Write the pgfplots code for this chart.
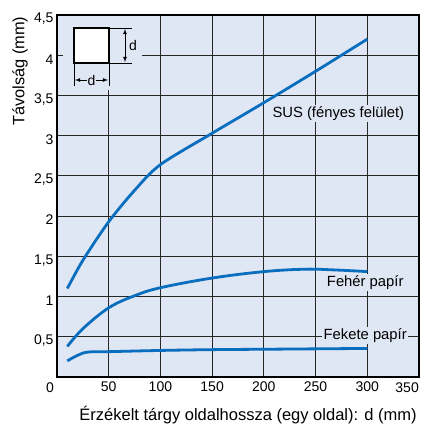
\documentclass[border=0pt]{standalone}
\usepackage{pgfplots}
\pgfplotsset{compat=1.18}
\usetikzlibrary{calc}
\usepackage{fontspec}
\setmainfont{Liberation Sans}
\definecolor{bgblue}{RGB}{223,230,244}
\definecolor{curve}{RGB}{10,110,190}
\begin{document}
\begin{tikzpicture}
\begin{axis}[
  scale only axis, width=362pt, height=362pt,
  xmin=0, xmax=350, ymin=0, ymax=4.5,
  xtick={50,100,...,350}, xticklabels={50,100,150,200,250,300,},
  ytick={0.5,1,...,4.5},
  /pgf/number format/use comma,
  /pgf/number format/assume math mode=true,
  tick label style={font=\fontsize{14}{16}\selectfont},
  major tick length=0pt,
  xticklabel style={yshift=-1pt},
  yticklabel style={xshift=0pt, yshift=-4pt},
  grid=major,
  major grid style={black!85, line width=0.8pt},
  axis line style={black, line width=1.2pt},
  axis background/.style={fill=bgblue},
  axis on top=false,
  clip=false,
]
\coordinate (SW) at (rel axis cs:0,0);
\coordinate (SE) at (rel axis cs:1,0);
\coordinate (NE) at (rel axis cs:1,1);
\coordinate (BC) at (rel axis cs:0.5,0);
\coordinate (TL) at (rel axis cs:0,1);
\addplot[curve, line width=2.8pt, smooth, tension=0.5] coordinates {
 (10,1.10) (25,1.45) (50,1.93) (75,2.32) (100,2.64) (150,3.03) (200,3.41) (250,3.80) (300,4.20)};
\addplot[curve, line width=2.8pt, smooth, tension=0.6] coordinates {
 (10,0.38) (25,0.60) (50,0.86) (75,1.01) (100,1.11) (150,1.23) (200,1.31) (240,1.34) (270,1.33) (300,1.31)};
\addplot[curve, line width=2.8pt, smooth, tension=0.6] coordinates {
 (10,0.20) (20,0.27) (30,0.31) (50,0.315) (100,0.33) (150,0.34) (200,0.345) (250,0.35) (300,0.355)};
\node[fill=bgblue, inner sep=1.5pt, font=\fontsize{14.8}{16}\selectfont] at (axis cs:272,3.28) {SUS (fényes felület)};
\node[fill=bgblue, inner sep=1.5pt, font=\fontsize{14.8}{16}\selectfont] at (axis cs:298,1.17) {Fehér papír};
\node[fill=bgblue, inner sep=1.5pt, font=\fontsize{14.8}{16}\selectfont] at (axis cs:298,0.52) {Fekete papír};
% inset
\fill[bgblue] ([shift={(6pt,-1pt)}]rel axis cs:0,1) rectangle ([shift={(85pt,-75pt)}]rel axis cs:0,1);
\draw[black, line width=1.3pt, fill=white] ([shift={(17pt,-13pt)}]rel axis cs:0,1) rectangle ([shift={(52pt,-48pt)}]rel axis cs:0,1);
\draw[black, line width=0.6pt] ([shift={(52pt,-13pt)}]rel axis cs:0,1) -- ([shift={(75pt,-13pt)}]rel axis cs:0,1);
\draw[black, line width=0.6pt] ([shift={(52pt,-48pt)}]rel axis cs:0,1) -- ([shift={(75pt,-48pt)}]rel axis cs:0,1);
\draw[black, line width=0.8pt, <->, >=latex] ([shift={(68pt,-14pt)}]rel axis cs:0,1) -- ([shift={(68pt,-47pt)}]rel axis cs:0,1);
\node[anchor=west, inner sep=0pt, font=\fontsize{14}{16}\selectfont] at ([shift={(72pt,-30pt)}]rel axis cs:0,1) {d};
\draw[black, line width=0.6pt] ([shift={(17pt,-48pt)}]rel axis cs:0,1) -- ([shift={(17pt,-71pt)}]rel axis cs:0,1);
\draw[black, line width=0.6pt] ([shift={(52pt,-48pt)}]rel axis cs:0,1) -- ([shift={(52pt,-71pt)}]rel axis cs:0,1);
\draw[black, line width=0.8pt, <->, >=latex] ([shift={(18pt,-65pt)}]rel axis cs:0,1) -- ([shift={(51pt,-65pt)}]rel axis cs:0,1);
\node[fill=bgblue, inner sep=1pt, font=\fontsize{14}{16}\selectfont] at ([shift={(34.5pt,-65pt)}]rel axis cs:0,1) {d};
\end{axis}
\node[font=\fontsize{14}{16}\selectfont] at ([shift={(-7pt,-10.5pt)}]SW) {0};
\node[font=\fontsize{14}{16}\selectfont, anchor=east, inner sep=0pt] at ([shift={(0pt,-10.5pt)}]SE) {350};
\node[rotate=90, anchor=east, font=\fontsize{16.4}{18}\selectfont] at ([shift={(-37pt,2pt)}]TL) {Távolság (mm)};
\node[font=\fontsize{16.5}{18}\selectfont] at ([shift={(10pt,-38pt)}]BC) {Érzékelt tárgy oldalhossza (egy oldal): d (mm)};
\pgfresetboundingbox
\path ([shift={(-57pt,-49pt)}]SW) rectangle ([shift={(2pt,15pt)}]NE);
\end{tikzpicture}
\end{document}
